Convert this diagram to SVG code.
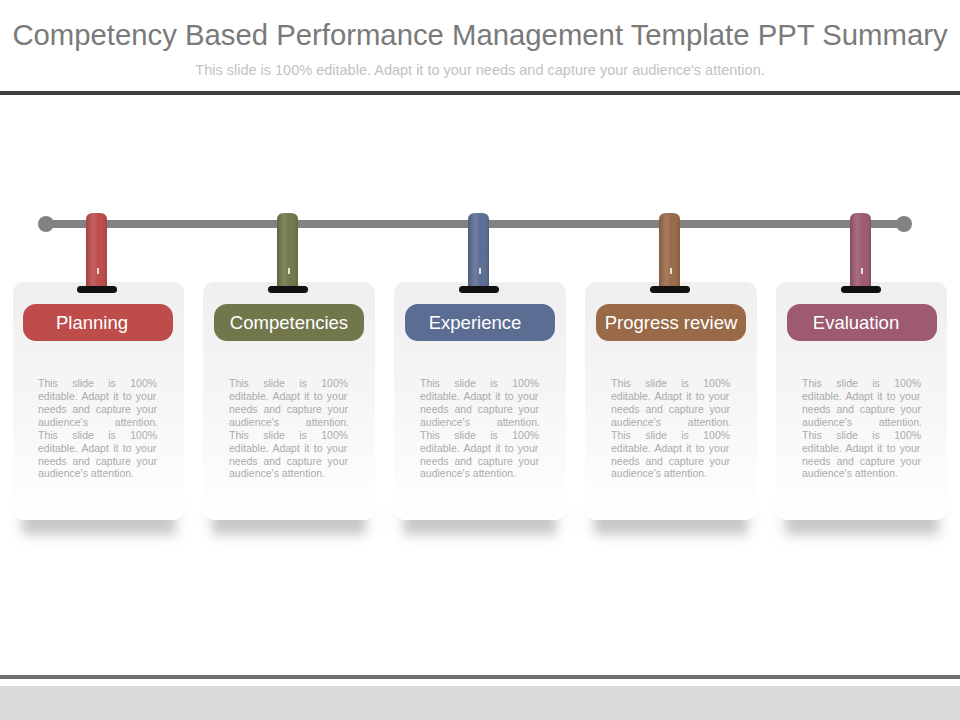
<svg xmlns="http://www.w3.org/2000/svg" width="960" height="720" viewBox="0 0 960 720">
<defs>
<style>
.title{font-family:"Liberation Sans",Arial,sans-serif;font-size:29.3px;fill:#7a7a7a;}
.sub{font-family:"Liberation Sans",Arial,sans-serif;font-size:14.5px;fill:#c2c2c2;}
.lbl{font-family:"Liberation Sans",Arial,sans-serif;font-size:18.5px;fill:#fff;text-anchor:middle;}
.body{font-family:"Liberation Sans",Arial,sans-serif;font-size:10.5px;fill:#ababab;}
.w1{word-spacing:11.5px;}
.w2{word-spacing:1.4px;}
.w3{word-spacing:2.9px;}
.w4{word-spacing:24px;}
.card{fill:url(#cardG);}
.clip{fill:#111;}
</style>
<linearGradient id="cardG" x1="0" y1="0" x2="0" y2="1">
<stop offset="0" stop-color="#efefef"/>
<stop offset="0.5" stop-color="#f6f6f6"/>
<stop offset="1" stop-color="#ffffff"/>
</linearGradient>
<linearGradient id="shine" x1="0" y1="0" x2="1" y2="0">
<stop offset="0" stop-color="#000" stop-opacity="0.15"/>
<stop offset="0.35" stop-color="#fff" stop-opacity="0.12"/>
<stop offset="0.6" stop-color="#fff" stop-opacity="0"/>
<stop offset="1" stop-color="#000" stop-opacity="0.12"/>
</linearGradient>
<filter id="blur" x="-20%" y="-50%" width="140%" height="200%"><feGaussianBlur stdDeviation="6"/></filter>
</defs>
<rect width="960" height="720" fill="#fff"/>
<text class="title" x="480" y="45" text-anchor="middle">Competency Based Performance Management Template PPT Summary</text>
<text class="sub" x="480" y="75" text-anchor="middle">This slide is 100% editable. Adapt it to your needs and capture your audience's attention.</text>
<rect x="0" y="91" width="960" height="4" fill="#404040"/>
<rect x="0" y="675" width="960" height="4" fill="#707070"/>
<rect x="0" y="686" width="960" height="34" fill="#d9d9d9"/>

<g id="rod">
<rect x="46" y="220" width="858" height="8" fill="#828282"/>
<circle cx="46" cy="224" r="8" fill="#828282"/>
<circle cx="904" cy="224" r="8" fill="#828282"/>
</g>

<g id="shadows" fill="#c8c8c8" filter="url(#blur)">
<rect x="22" y="505" width="154" height="30"/>
<rect x="212" y="505" width="154" height="30"/>
<rect x="403" y="505" width="154" height="30"/>
<rect x="594" y="505" width="154" height="30"/>
<rect x="785" y="505" width="154" height="30"/>
</g>

<g id="node1">
<rect class="card" x="13" y="282" width="171" height="238" rx="11"/>
<path d="M86,288 V220 Q86,213 93,213 H100 Q107,213 107,220 V288 Z" fill="#bd4c4a"/>
<path d="M86,288 V220 Q86,213 93,213 H100 Q107,213 107,220 V288 Z" fill="url(#shine)"/>
<rect x="97" y="268" width="2" height="6" fill="#fff" opacity="0.8"/>
<rect class="clip" x="77" y="286" width="40" height="7" rx="3.5"/>
<rect x="23" y="304" width="150" height="37" rx="13" fill="#bd4c4a"/>
<text class="lbl" x="92" y="328.5">Planning</text>
<g class="body">
<text class="w1" x="38" y="387">This slide is 100%</text>
<text class="w2" x="38" y="400">editable. Adapt it to your</text>
<text class="w3" x="38" y="413">needs and capture your</text>
<text class="w4" x="38" y="426">audience's attention.</text>
<text class="w1" x="38" y="439">This slide is 100%</text>
<text class="w2" x="38" y="452">editable. Adapt it to your</text>
<text class="w3" x="38" y="465">needs and capture your</text>
<text x="38" y="477">audience's attention.</text>
</g>
</g>

<g id="node2">
<rect class="card" x="203" y="282" width="172" height="238" rx="11"/>
<path d="M277,288 V220 Q277,213 284,213 H291 Q298,213 298,220 V288 Z" fill="#72764b"/>
<path d="M277,288 V220 Q277,213 284,213 H291 Q298,213 298,220 V288 Z" fill="url(#shine)"/>
<rect x="288" y="268" width="2" height="6" fill="#fff" opacity="0.8"/>
<rect class="clip" x="268" y="286" width="40" height="7" rx="3.5"/>
<rect x="214" y="304" width="150" height="37" rx="13" fill="#72764b"/>
<text class="lbl" x="289" y="328.5">Competencies</text>
<g class="body">
<text class="w1" x="229" y="387">This slide is 100%</text>
<text class="w2" x="229" y="400">editable. Adapt it to your</text>
<text class="w3" x="229" y="413">needs and capture your</text>
<text class="w4" x="229" y="426">audience's attention.</text>
<text class="w1" x="229" y="439">This slide is 100%</text>
<text class="w2" x="229" y="452">editable. Adapt it to your</text>
<text class="w3" x="229" y="465">needs and capture your</text>
<text x="229" y="477">audience's attention.</text>
</g>
</g>

<g id="node3">
<rect class="card" x="394" y="282" width="172" height="238" rx="11"/>
<path d="M468,288 V220 Q468,213 475,213 H482 Q489,213 489,220 V288 Z" fill="#5b6d93"/>
<path d="M468,288 V220 Q468,213 475,213 H482 Q489,213 489,220 V288 Z" fill="url(#shine)"/>
<rect x="479" y="268" width="2" height="6" fill="#fff" opacity="0.8"/>
<rect class="clip" x="459" y="286" width="40" height="7" rx="3.5"/>
<rect x="405" y="304" width="150" height="37" rx="13" fill="#5b6d93"/>
<text class="lbl" x="475" y="328.5">Experience</text>
<g class="body">
<text class="w1" x="420" y="387">This slide is 100%</text>
<text class="w2" x="420" y="400">editable. Adapt it to your</text>
<text class="w3" x="420" y="413">needs and capture your</text>
<text class="w4" x="420" y="426">audience's attention.</text>
<text class="w1" x="420" y="439">This slide is 100%</text>
<text class="w2" x="420" y="452">editable. Adapt it to your</text>
<text class="w3" x="420" y="465">needs and capture your</text>
<text x="420" y="477">audience's attention.</text>
</g>
</g>

<g id="node4">
<rect class="card" x="585" y="282" width="172" height="238" rx="11"/>
<path d="M659,288 V220 Q659,213 666,213 H673 Q680,213 680,220 V288 Z" fill="#9a6a48"/>
<path d="M659,288 V220 Q659,213 666,213 H673 Q680,213 680,220 V288 Z" fill="url(#shine)"/>
<rect x="670" y="268" width="2" height="6" fill="#fff" opacity="0.8"/>
<rect class="clip" x="650" y="286" width="40" height="7" rx="3.5"/>
<rect x="596" y="304" width="150" height="37" rx="13" fill="#9a6a48"/>
<text class="lbl" x="671" y="328.5">Progress review</text>
<g class="body">
<text class="w1" x="611" y="387">This slide is 100%</text>
<text class="w2" x="611" y="400">editable. Adapt it to your</text>
<text class="w3" x="611" y="413">needs and capture your</text>
<text class="w4" x="611" y="426">audience's attention.</text>
<text class="w1" x="611" y="439">This slide is 100%</text>
<text class="w2" x="611" y="452">editable. Adapt it to your</text>
<text class="w3" x="611" y="465">needs and capture your</text>
<text x="611" y="477">audience's attention.</text>
</g>
</g>

<g id="node5">
<rect class="card" x="776" y="282" width="171" height="238" rx="11"/>
<path d="M850,288 V220 Q850,213 857,213 H864 Q871,213 871,220 V288 Z" fill="#9d5a70"/>
<path d="M850,288 V220 Q850,213 857,213 H864 Q871,213 871,220 V288 Z" fill="url(#shine)"/>
<rect x="861" y="268" width="2" height="6" fill="#fff" opacity="0.8"/>
<rect class="clip" x="841" y="286" width="40" height="7" rx="3.5"/>
<rect x="787" y="304" width="150" height="37" rx="13" fill="#9d5a70"/>
<text class="lbl" x="856" y="328.5">Evaluation</text>
<g class="body">
<text class="w1" x="802" y="387">This slide is 100%</text>
<text class="w2" x="802" y="400">editable. Adapt it to your</text>
<text class="w3" x="802" y="413">needs and capture your</text>
<text class="w4" x="802" y="426">audience's attention.</text>
<text class="w1" x="802" y="439">This slide is 100%</text>
<text class="w2" x="802" y="452">editable. Adapt it to your</text>
<text class="w3" x="802" y="465">needs and capture your</text>
<text x="802" y="477">audience's attention.</text>
</g>
</g>
</svg>
